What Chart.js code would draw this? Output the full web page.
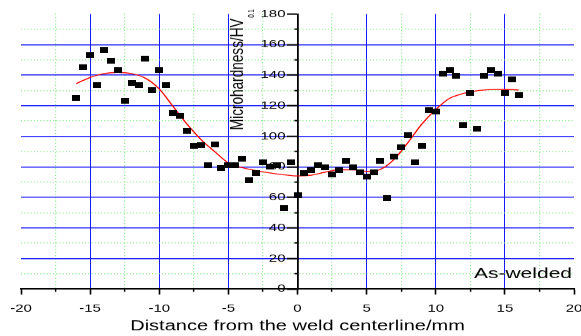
<!DOCTYPE html>
<html>
<head>
<meta charset="utf-8">
<script src="https://cdn.jsdelivr.net/npm/chart.js@4/dist/chart.umd.min.js"></script>
<style>
html,body{margin:0;padding:0;background:#fff;overflow:hidden}
#c{display:block}
</style>
</head>
<body>
<canvas id="c" style="width:581px;height:336px"></canvas>
<script>
// ---- data ----
const distanceMm = [-16,-15.5,-15,-14.5,-14,-13.5,-13,-12.5,-12,-11.5,-11,-10.5,-10,-9.5,-9,-8.5,-8,-7.5,-7,-6.5,-6,-5.5,-5,-4.5,-4,-3.5,-3,-2.5,-2,-1.5,-1,-0.5,0,0.5,1,1.5,2,2.5,3,3.5,4,4.5,5,5.5,6,6.5,7,7.5,8,8.5,9,9.5,10,10.5,11,11.5,12,12.5,13,13.5,14,14.5,15,15.5,16];
const hardnessHV = [125.2,145.1,153.1,133.5,156.4,149.2,143.3,123.0,135.0,133.5,151.0,130.2,143.3,133.5,115.0,113.4,103.6,93.8,94.2,81.2,94.7,79.0,81.2,81.2,85.5,71.3,75.7,82.9,80.0,81.2,52.8,82.7,61.3,75.7,77.9,81.2,79.6,74.8,77.9,84.0,79.6,76.4,73.5,76.4,84.0,59.5,86.6,92.6,100.9,82.9,93.8,117.1,116.0,141.2,143.3,139.4,107.5,128.1,104.9,139.4,143.3,141.2,128.5,137.2,126.8];
const fitDistanceMm = [-16,-15,-14,-13,-12,-11,-10,-9,-8,-7,-6,-5,-4,-3,-2,-1,0,1,2,3,4,5,6,7,8,9,10,11,12,13,14,15,16];
const fitHardnessHV = [134.5,138.5,141,141.8,141,138,131,119.5,108,98,90,82.5,79.5,77.5,76,74.8,74,74.5,76.5,78,78,77,78.3,85,96,108,117.5,124.8,128,129.8,130.5,130.7,130.3];
const xMajorTicks = [-20,-15,-10,-5,0,5,10,15,20];
const xMinorTicks = [-17.5,-12.5,-7.5,-2.5,2.5,7.5,12.5,17.5];
const yMajorTicks = [0,20,40,60,80,100,120,140,160,180];
const yMinorTicks = [10,30,50,70,90,110,130,150,170];
const xTitle = 'Distance from the weld centerline/mm';
const yTitle = 'Microhardness/HV';
const yTitleSub = '0.1';
const stateLabel = 'As-welded';

// ---- rendering ----
const W = 581, H = 336, SY = 1.4;          // reference is horizontally stretched: draw taller, squash via CSS
const canvas = document.getElementById('c');
canvas.width = W; canvas.height = Math.round(H * SY);
const FONT = '"Liberation Sans", Arial, sans-serif';
const BLUE = 'rgb(25,25,255)';
const GREEN = 'rgb(140,235,140)';
const Y_LABEL_GAP = 12;

function setTicks(arr){ return s => { s.ticks = arr.map(v => ({value: v})); }; }
function noPad(s){ s.paddingLeft = 0; s.paddingRight = 0; s.paddingTop = 0; s.paddingBottom = 0; }

const marker = document.createElement('canvas');
marker.width = 8; marker.height = 8;
(function(){ const m = marker.getContext('2d'); m.fillStyle = '#000'; m.fillRect(0,0,8,8); })();

// shift y tick labels left of the tick marks (axis is placed at x = 0)
const labelShift = {
  id: 'labelShift',
  beforeDraw(chart) {
    const s = chart.scales.y;
    const items = s.getLabelItems(chart.chartArea);
    if (!items._shifted) {
      items.forEach(it => { it.options.translation[0] -= Y_LABEL_GAP; });
      items._shifted = true;
    }
  }
};

const textPlugin = {
  id: 'texts',
  afterDraw(chart) {
    const ctx = chart.ctx;
    const xs = chart.scales.x;
    ctx.save();
    ctx.fillStyle = '#000';
    ctx.textBaseline = 'alphabetic';
    ctx.font = '20px ' + FONT;
    ctx.textAlign = 'center';
    ctx.fillText(xTitle, (xs.left + xs.right) / 2, 330 * SY);
    ctx.font = '21px ' + FONT;
    ctx.textAlign = 'right';
    ctx.fillText(stateLabel, 572, 278 * SY);
    ctx.translate(243.3, 130 * SY);
    ctx.rotate(-Math.PI / 2);
    ctx.textAlign = 'left';
    ctx.font = '19px ' + FONT;
    ctx.fillText(yTitle, 0, 0);
    const w = ctx.measureText(yTitle).width;
    ctx.font = '8.5px ' + FONT;
    ctx.fillText(yTitleSub, w + 1, 10.7);
    ctx.restore();
  }
};

new Chart(canvas, {
  data: {
    datasets: [
      {
        type: 'line',
        data: fitDistanceMm.map((x, i) => ({x, y: fitHardnessHV[i]})),
        borderColor: 'rgb(255,0,0)',
        borderWidth: 1.4,
        pointRadius: 0,
        cubicInterpolationMode: 'monotone',
        fill: false,
        order: 2
      },
      {
        type: 'scatter',
        data: distanceMm.map((x, i) => ({x, y: hardnessHV[i]})),
        pointStyle: marker,
        pointRadius: 4,
        backgroundColor: '#000',
        borderColor: '#000',
        order: 1
      }
    ]
  },
  options: {
    responsive: false,
    animation: false,
    devicePixelRatio: 1,
    layout: { padding: { left: 21, right: 7, top: 14 * SY, bottom: (H - 289) * SY } },
    plugins: { legend: { display: false }, tooltip: { enabled: false } },
    scales: {
      x: {
        type: 'linear', axis: 'x', position: { y: 0 }, min: -20, max: 20,
        afterBuildTicks: setTicks(xMajorTicks), afterFit: noPad,
        ticks: { font: { family: FONT, size: 15 }, color: '#000', padding: 12, maxRotation: 0, autoSkip: false },
        grid: {
          color: c => (c.tick && (c.tick.value === 0 || Math.abs(c.tick.value) === 20)) ? 'rgba(0,0,0,0)' : BLUE,
          lineWidth: 1, tickColor: '#000', tickLength: 7, tickWidth: 1.6
        },
        border: { display: true, color: '#000', width: 2 }
      },
      x2: {
        type: 'linear', axis: 'x', position: { y: 0 }, min: -20, max: 20,
        afterBuildTicks: setTicks(xMinorTicks), afterFit: noPad,
        ticks: { display: false },
        grid: { color: GREEN, lineWidth: 1.2, tickColor: '#000', tickLength: 4.2, tickWidth: 1.4 },
        border: { display: false, dash: [1.5, 3] }
      },
      y: {
        type: 'linear', axis: 'y', position: { x: 0 }, min: 0, max: 180,
        afterBuildTicks: setTicks(yMajorTicks), afterFit: noPad,
        ticks: { font: { family: FONT, size: 15 }, color: '#000', padding: 3, autoSkip: false },
        grid: {
          color: c => (c.tick && (c.tick.value === 0 || c.tick.value === 180)) ? 'rgba(0,0,0,0)' : BLUE,
          lineWidth: 1.4, tickColor: '#000', tickLength: 10, tickWidth: 2
        },
        border: { display: true, color: '#000', width: 1.8 }
      },
      y2: {
        type: 'linear', axis: 'y', position: { x: 0 }, min: 0, max: 180,
        afterBuildTicks: setTicks(yMinorTicks), afterFit: noPad,
        ticks: { display: false },
        grid: { color: GREEN, lineWidth: 1.4, tickColor: '#000', tickLength: 3.5, tickWidth: 2 },
        border: { display: false, dash: [1, 2.2] }
      }
    }
  },
  plugins: [labelShift, textPlugin]
});
canvas.style.width = W + 'px';
canvas.style.height = H + 'px';
</script>
</body>
</html>
